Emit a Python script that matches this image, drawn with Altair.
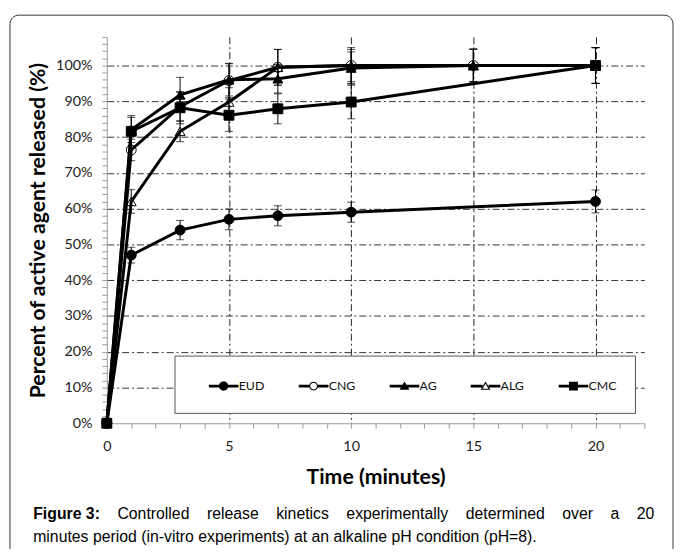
import altair as alt
import pandas as pd

SERIES = ["EUD", "CNG", "AG", "ALG", "CMC"]
SHAPES = ["circle", "circle", "triangle-up", "triangle-up", "square"]
FILLS = ["black", "transparent", "black", "transparent", "black"]

EUD_T = [0, 1, 3, 5, 7, 10, 20]
EUD_V = [0, 47, 54, 57, 58, 59, 62]
EUD_E = [0, 2.2, 2.7, 2.9, 2.8, 2.8, 3.2]

CNG_T = [0, 1, 3, 5, 7, 10, 15, 20]
CNG_V = [0, 76.4, 88.5, 95.8, 99.5, 100, 100, 100]
CNG_E = [0, 3.0, 4.0, 4.8, 5.0, 5.0, 4.7, 5.0]

AG_T = [0, 1, 3, 5, 7, 10, 15, 20]
AG_V = [0, 82, 91.8, 96, 96.3, 99.3, 100, 100]
AG_E = [0, 3.5, 4.9, 4.5, 4.0, 4.5, 4.5, 5.0]

ALG_T = [0, 1, 3, 5, 7, 10, 15, 20]
ALG_V = [0, 62, 81.6, 89.8, 99.5, 100, 100, 100]
ALG_E = [0, 3.3, 2.9, 4.0, 5.0, 4.5, 4.5, 5.0]

CMC_T = [0, 1, 3, 5, 7, 10, 20]
CMC_V = [0, 81.6, 88.2, 86.1, 87.9, 89.8, 100]
CMC_E = [0, 4.4, 4.5, 4.5, 4.2, 4.7, 5.0]

X_TICKS = list(range(0, 23))
Y_TICKS = list(range(0, 109, 2))

CAPTION_BOLD = "Figure 3:"
CAPTION_L1 = ["Controlled", "release", "kinetics", "experimentally", "determined", "over", "a", "20"]
CAPTION_L2 = "minutes period (in-vitro experiments) at an alkaline pH condition (pH=8)."

rows = []
for name, ts, vs, es in [("EUD", EUD_T, EUD_V, EUD_E), ("CNG", CNG_T, CNG_V, CNG_E),
                         ("AG", AG_T, AG_V, AG_E), ("ALG", ALG_T, ALG_V, ALG_E),
                         ("CMC", CMC_T, CMC_V, CMC_E)]:
    for t, v, e in zip(ts, vs, es):
        rows.append({"s": name, "t": t, "v": v, "lo": v - e, "hi": v + e, "e": e})
df = pd.DataFrame(rows)

FONT = "Lato"
YTITLE = "Percent of active agent released (%)"
XTITLE = "Time (minutes)"

x_axis = alt.Axis(
    values=X_TICKS,
    labelExpr="datum.value % 5 == 0 && datum.value <= 20 ? datum.label : ''",
    grid=True,
    gridOpacity={"condition": {"test": "datum.value % 5 == 0 && datum.value > 0 && datum.value <= 20", "value": 1}, "value": 0},
    gridColor="#222", gridDash=[7, 3, 2, 3], gridWidth=1,
    tickSize=5, tickColor="#999", domainColor="#999",
    labelFont=FONT, labelFontSize=14.5, labelColor="#222", labelPadding=12,
    labelOverlap=False, labelFlush=False,
    titleFont=FONT, titleFontSize=21.5, titleFontWeight="bold", titleColor="#000", titlePadding=13,
)
y_axis = alt.Axis(
    values=Y_TICKS,
    labelExpr="datum.value % 10 == 0 && datum.value <= 100 ? datum.value + '%' : ''",
    grid=True,
    gridOpacity={"condition": {"test": "datum.value % 10 == 0 && datum.value > 0 && datum.value <= 100", "value": 1}, "value": 0},
    gridColor="#333", gridDash=[7, 3, 2, 3], gridWidth=1,
    tickSize=5, tickColor="#999", domainColor="#999",
    labelFont=FONT, labelFontSize=14.5, labelColor="#222", labelPadding=10,
    labelOverlap=False, labelFlush=False,
    titleFont=FONT, titleFontSize=21.5, titleFontWeight="bold", titleColor="#000", titlePadding=6,
)
xs = alt.Scale(domain=[0, 22], nice=False, zero=False)
ys = alt.Scale(domain=[0, 108], nice=False)


def X(f="t"):
    return alt.X(f"{f}:Q", scale=xs, axis=x_axis, title=XTITLE)


def Y(f="v"):
    return alt.Y(f"{f}:Q", scale=ys, axis=y_axis, title=YTITLE)


# legend symbols: line segment + marker (unit coordinates)
LF = "M-3,-0.28H3V0.28H-3Z"
PATHS = [
    LF + " M0.95,0A0.95,0.95 0 1,1 -0.95,0A0.95,0.95 0 1,1 0.95,0Z",
    "M-3,-0.28H-0.75V0.28H-3Z M0.75,-0.28H3V0.28H0.75Z "
    "M0.9,0A0.9,0.9 0 1,1 -0.9,0A0.9,0.9 0 1,1 0.9,0Z "
    "M0.68,0A0.68,0.68 0 1,0 -0.68,0A0.68,0.68 0 1,0 0.68,0Z",
    LF + " M0,-0.95L1,0.75L-1,0.75Z",
    "M-3,-0.28H-0.62V0.28H-3Z M0.62,-0.28H3V0.28H0.62Z "
    "M0,-0.95L1,0.75L-1,0.75Z M0,-0.48L-0.6,0.53L0.6,0.53Z",
    LF + " M-0.9,-0.9H0.9V0.9H-0.9Z",
]

legend = alt.Legend(
    title=None, orient="none", legendX=112, legendY=347, direction="horizontal", columns=5,
    symbolSize=100, labelFont=FONT, labelFontSize=12.5, labelColor="#111", labelOffset=9,
    columnPadding=34, padding=0,
    symbolOpacity=1, symbolFillColor="black", symbolStrokeWidth=0,
)

base = alt.Chart(df)
errs = base.transform_filter("datum.e > 0")
err_rule = errs.mark_rule(color="black", strokeWidth=1).encode(x=X(), y=Y("lo"), y2="hi:Q")
cap_lo = errs.mark_tick(color="black", thickness=1, size=8, orient="horizontal").encode(x=X(), y=Y("lo"))
cap_hi = errs.mark_tick(color="black", thickness=1, size=8, orient="horizontal").encode(x=X(), y=Y("hi"))
lines = base.mark_line(color="black", strokeWidth=3).encode(x=X(), y=Y(), detail="s:N", order="t:Q")
points = base.mark_point(filled=True, size=100, stroke="black", strokeWidth=1, opacity=1).encode(
    x=X(), y=Y(),
    shape=alt.Shape("s:N", scale=alt.Scale(domain=SERIES, range=SHAPES), legend=None),
    fill=alt.Fill("s:N", scale=alt.Scale(domain=SERIES, range=FILLS), legend=None),
)
legend_layer = base.mark_point(filled=True, color="black", size=100, opacity=0).encode(
    x=X(), y=Y(),
    shape=alt.Shape("s:N", scale=alt.Scale(domain=SERIES, range=PATHS), legend=legend),
)

one = pd.DataFrame({"a": [0]})
border = alt.Chart(one).mark_rect(fill="transparent", stroke="#333", strokeWidth=1, cornerRadius=9).encode(
    x=alt.value(-98), x2=alt.value(573), y=alt.value(-22), y2=alt.value(560))
legend_box = alt.Chart(one).mark_rect(fill="white", stroke="#555", strokeWidth=1).encode(
    x=alt.value(69), x2=alt.value(535), y=alt.value(323), y2=alt.value(381))

# caption (Liberation Sans = Arial metrics), line 1 justified
CFONT = "Liberation Sans"
CFS = 16
REG = {"C": 722, "o": 556, "n": 556, "t": 278, "r": 333, "l": 222, "e": 556, "d": 556, "a": 556,
       "s": 500, "k": 500, "i": 222, "c": 500, "x": 500, "p": 556, "m": 833, "y": 500, "v": 500,
       "2": 556, "0": 556}
BOLD = {"F": 611, "i": 278, "g": 611, "u": 611, "r": 389, "e": 556, " ": 278, "3": 556, ":": 333}
left, right = 33.5 - 108, 662 - 108
wb = sum(BOLD[c] for c in CAPTION_BOLD) * CFS / 1000
ww = [sum(REG[c] for c in w) * CFS / 1000 for w in CAPTION_L1]
gap = (right - left - wb - sum(ww)) / len(CAPTION_L1)
texts = [alt.Chart(one).mark_text(text=CAPTION_BOLD, align="left", baseline="alphabetic",
                                  font=CFONT, fontSize=CFS, fontWeight="bold", color="black")
         .encode(x=alt.value(left), y=alt.value(488))]
cx = left + wb + gap
for w, wd in zip(CAPTION_L1, ww):
    texts.append(alt.Chart(one).mark_text(text=w, align="left", baseline="alphabetic",
                                          font=CFONT, fontSize=CFS, color="black")
                 .encode(x=alt.value(cx), y=alt.value(488)))
    cx += wd + gap
texts.append(alt.Chart(one).mark_text(text=CAPTION_L2, align="left", baseline="alphabetic",
                                      font=CFONT, fontSize=CFS, color="black")
             .encode(x=alt.value(left), y=alt.value(511)))

chart = alt.layer(legend_layer, err_rule, cap_lo, cap_hi, lines, points, legend_box, border, *texts).resolve_scale(
    shape="independent"
).properties(
    width=544, height=391,
    padding={"left": 100, "top": 26, "right": 31, "bottom": 124},
    autosize=alt.AutoSizeParams(type="none"),
    background="white",
).configure_view(stroke=None)

chart.save("out.html", embed_options={"renderer": "svg", "actions": False})
